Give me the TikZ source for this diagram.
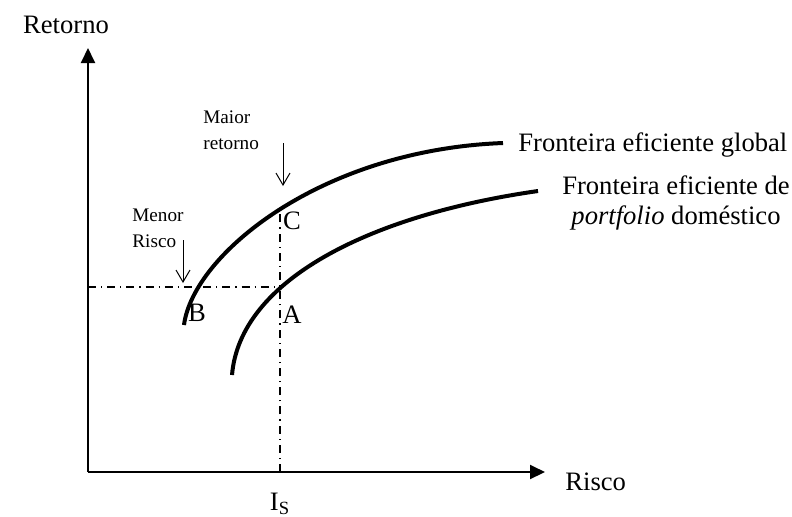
\documentclass[tikz,border=0pt]{standalone}
\usepackage{fontspec}
\setmainfont{Liberation Serif}
\usetikzlibrary{positioning, calc, arrows.meta}
\definecolor{Dark}{HTML}{000000}
\tikzset{
    eixo/.style={line width=1pt, color=Dark, -{Triangle[length=7.5pt,width=7pt]}},
    fronteira/.style={line width=2pt, color=Dark},
    guia/.style={line width=0.7pt, color=Dark, dash pattern=on 4pt off 2.5pt on 0.6pt off 2.5pt},
    seta/.style={line width=0.5pt, color=Dark, -{Straight Barb[length=6pt,width=7pt]}},
    rotulo/.style={font=\fontsize{13.3}{15}\selectfont, inner sep=0pt},
    nota/.style={font=\fontsize{9.6}{13}\selectfont, inner sep=0pt, align=left},
}

\begin{document}
\begin{tikzpicture}[x=0.5pt, y=-0.5pt]
    \useasboundingbox (0,0) rectangle (792,516);

    % Eixos
    \coordinate (O) at (88,472);
    \coordinate (ytopo) at (88,48);
    \coordinate (xfim) at (545,472);
    \draw[eixo] (O) -- (ytopo);
    \draw[eixo] (O) -- (xfim);
    \node[rotulo] (retorno) at (66,25) {Retorno};
    \node[rotulo, anchor=west] (risco) at (565,482) {Risco};
    \node[rotulo] (is) at (280,504) {I\textsubscript{S}};

    % Linhas guia
    \coordinate (ptA) at (280,287);
    \coordinate (ptC) at (280,210);
    \coordinate (yA) at (88,287);
    \coordinate (xA) at (280,472);
    \draw[guia] (yA) -- (ptA);
    \draw[guia] (xA) -- (ptC);

    % Fronteira global
    \coordinate (g0) at (184,325);
    \coordinate (g1) at (503,143);
    \draw[fronteira] (g0) .. controls (193,255) and (320,150) .. (g1);
    \node[rotulo, anchor=west] (global) at (518,145) {Fronteira eficiente global};

    % Fronteira domestica
    \coordinate (d0) at (232,375);
    \coordinate (d1) at (538,191);
    \draw[fronteira] (d0) .. controls (240,280) and (370,215) .. (d1);
    \node[rotulo, align=center] (domestico) at (676,203) {Fronteira eficiente de\\\textit{portfolio} doméstico};

    % Pontos
    \node[rotulo] (C) at (292,221) {C};
    \node[rotulo] (B) at (197,313) {B};
    \node[rotulo] (A) at (292,315) {A};

    % Anotacoes
    \node[nota, anchor=west] (maior) at (203,130) {Maior\\retorno};
    \coordinate (m0) at (283,143);
    \coordinate (m1) at (283,186);
    \draw[seta] (m0) -- (m1);
    \node[nota, anchor=west] (menor) at (132,228) {Menor\\Risco};
    \coordinate (n0) at (183,240);
    \coordinate (n1) at (183,283);
    \draw[seta] (n0) -- (n1);
\end{tikzpicture}
\end{document}
